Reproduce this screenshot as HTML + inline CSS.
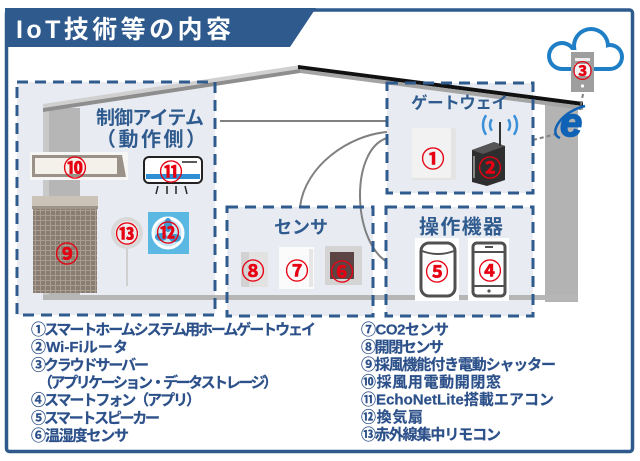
<!DOCTYPE html>
<html><head><meta charset="utf-8"><title>IoT技術等の内容</title>
<style>
html,body{margin:0;padding:0;background:#fff;width:640px;height:461px;overflow:hidden}
svg{display:block}
text{font-family:"Liberation Sans","Noto Sans CJK JP",sans-serif;font-weight:bold}
.n{font-family:"Noto Sans CJK JP",sans-serif;font-size:23px;fill:#e60012;stroke:#e60012;stroke-width:0.5px;text-anchor:middle;dominant-baseline:central;font-weight:bold}
.lab{fill:#2f5b8e;dominant-baseline:central}
.lg{fill:#2c5089;font-size:15px;dominant-baseline:central;stroke:#2c5089;stroke-width:0.2px}
</style></head><body>
<svg width="640" height="461" viewBox="0 0 640 461" xmlns="http://www.w3.org/2000/svg">
<defs>
<pattern id="grid" width="5" height="5" patternUnits="userSpaceOnUse">
<rect width="5" height="5" fill="#887d70"/>
<path d="M0,0.5H5M0.5,0V5" stroke="#a89d90" stroke-width="1"/>
</pattern>
</defs>
<rect width="640" height="461" fill="#fff"/>
<!-- frame -->
<rect x="6.5" y="10" width="626" height="441.5" rx="3" fill="#fff" stroke="#2e5a8e" stroke-width="3.5"/>
<polygon points="5,8 316,8 290,47 5,47" fill="#2e5a8e"/>
<text x="16" y="30" font-size="25" fill="#fff" textLength="215" lengthAdjust="spacing" style="dominant-baseline:central">IoT技術等の内容</text>

<!-- box fills -->
<g fill="#e8ecf2">
<rect x="17" y="82" width="198" height="233"/>
<rect x="387" y="83" width="146" height="110"/>
<rect x="227" y="207" width="146" height="109"/>
<rect x="386" y="207" width="147" height="109"/>
</g>

<!-- house -->
<rect x="43" y="108" width="37" height="190" fill="#b6b6b6"/>
<rect x="43" y="108" width="6" height="190" fill="#c9c9c9"/>
<polygon points="545,98 578,103 578,302 545,302" fill="#b3b3b3"/>
<rect x="43" y="295" width="535" height="5" fill="#b6b6b6"/>
<polygon points="43,104 300,65 300,69 43,108" fill="#d0d0d0"/>
<polygon points="43,108 300,69 300,73 43,112" fill="#8e8e8e"/>
<polygon points="298,65 583,102 583,106 298,69" fill="#111"/>
<polygon points="300,69 583,106 583,110 300,73" fill="#a4a4a4"/>

<!-- connectors -->
<g fill="none" stroke="#808080" stroke-width="2">
<line x1="220" y1="121" x2="387" y2="121"/>
<path d="M387,132 C350,135 305,165 300,207"/>
<path d="M387,138 C350,150 352,240 387,262"/>
</g>
<g fill="none" stroke="#808080" stroke-width="2" stroke-dasharray="4 3">
<line x1="533" y1="140" x2="560" y2="133"/>
<line x1="583" y1="94" x2="580" y2="110"/>
</g>

<!-- dashed boxes -->
<g fill="none" stroke="#2f5b8e" stroke-width="3" stroke-dasharray="11 7">
<rect x="17" y="82" width="198" height="233"/>
<rect x="387" y="83" width="146" height="110"/>
<rect x="227" y="207" width="146" height="109"/>
<rect x="386" y="207" width="147" height="109"/>
</g>

<!-- devices: box1 -->
<rect x="30" y="152" width="98" height="28" fill="#f6f6f4"/>
<polygon points="32,155 122,155 126,177 32,177" fill="#9a9288"/>
<rect x="35" y="158" width="82" height="16" fill="#f4f1ea"/>

<rect x="144" y="157" width="58" height="26" rx="5" fill="#fff" stroke="#222" stroke-width="2"/>
<rect x="146" y="174" width="54" height="5" fill="#2f8fd5"/>
<line x1="182" y1="162" x2="197" y2="162" stroke="#222" stroke-width="1.5"/>
<g stroke="#222" stroke-width="1.5">
<line x1="158" y1="186" x2="156" y2="194"/>
<line x1="167" y1="186" x2="167" y2="194"/>
<line x1="176" y1="186" x2="176" y2="194"/>
<line x1="185" y1="186" x2="187" y2="194"/>
</g>

<rect x="32" y="196" width="66" height="12" fill="#cbc3b7"/>
<rect x="32" y="206" width="66" height="3" fill="#9d9488"/>
<rect x="33" y="209" width="64" height="84" fill="url(#grid)"/>

<circle cx="127" cy="233" r="16" fill="#d8d8d8"/>
<circle cx="127" cy="233" r="12" fill="#ececec"/>
<rect x="126" y="249" width="2" height="37" fill="#d0d0d0"/>

<rect x="148" y="212" width="41" height="42" fill="#5bb8e2"/>
<circle cx="168" cy="233" r="15" fill="#c2e7f6" stroke="#fff" stroke-width="3"/>
<g fill="#3a9ad0">
<ellipse cx="168" cy="225" rx="4" ry="7"/>
<ellipse cx="161" cy="237" rx="6" ry="4"/>
<ellipse cx="175" cy="238" rx="6" ry="4"/>
</g>

<!-- sensors -->
<rect x="241" y="252" width="27" height="35" fill="#e2e2e2"/>
<rect x="241" y="252" width="8" height="35" fill="#d2d2d2"/>
<rect x="279" y="247" width="35" height="42" fill="#fbfbfb"/>
<rect x="309" y="249" width="4" height="38" fill="#e6e6e6"/>
<rect x="325" y="246" width="37" height="39" fill="#d4d4d4"/>
<rect x="330" y="252" width="24" height="27" fill="#5c4444"/>

<!-- operation devices -->
<rect x="415" y="238" width="44" height="63" fill="#fff"/>
<rect x="468" y="238" width="41" height="63" fill="#fff"/>
<rect x="421" y="243" width="34" height="53" rx="8" fill="#fff" stroke="#505050" stroke-width="3"/>
<path d="M422,251 Q438,257 454,251" fill="none" stroke="#505050" stroke-width="2"/>
<rect x="473" y="243" width="32" height="53" rx="4" fill="#fff" stroke="#505050" stroke-width="3"/>
<line x1="473" y1="252" x2="505" y2="252" stroke="#505050" stroke-width="2"/>
<line x1="473" y1="286" x2="505" y2="286" stroke="#505050" stroke-width="2"/>
<rect x="485" y="246" width="8" height="2" fill="#505050"/>
<circle cx="489" cy="291" r="1.6" fill="#505050"/>

<!-- gateway devices -->
<rect x="412" y="128" width="44" height="52" rx="2" fill="#e4e4e4"/>
<rect x="412" y="128" width="39" height="50" rx="2" fill="#f2f2f2"/>
<polygon points="472,150 494,142 505,146 505,180 487,186 472,182" fill="#2e2e2e"/>
<polygon points="472,150 494,142 505,146 483,154" fill="#555"/>
<line x1="474" y1="156" x2="474" y2="178" stroke="#888" stroke-width="2"/>
<line x1="500" y1="146" x2="500" y2="122" stroke="#333" stroke-width="2"/>
<g fill="none" stroke="#3a8fd8" stroke-width="2.5">
<path d="M491.8,119.3 A10,10 0 0 0 491.8,130.7"/>
<path d="M486.1,115.25 A17,17 0 0 0 486.1,134.75"/>
<path d="M508.2,119.3 A10,10 0 0 1 508.2,130.7"/>
<path d="M513.9,115.25 A17,17 0 0 1 513.9,134.75"/>
</g>

<!-- cloud -->
<g fill="#1f7fc6">
<circle cx="562" cy="56" r="15"/>
<circle cx="591" cy="46" r="19"/>
<circle cx="610" cy="57" r="14"/>
<rect x="562" y="50" width="48" height="21"/>
</g>
<g fill="#fff">
<circle cx="562" cy="56" r="11"/>
<circle cx="591" cy="46" r="15"/>
<circle cx="610" cy="57" r="10"/>
<rect x="562" y="50" width="48" height="17"/>
</g>
<rect x="571" y="52" width="23" height="40" fill="#9e9e9e"/>
<rect x="575" y="58" width="15" height="3" fill="#eee"/>
<rect x="575" y="64" width="15" height="12" fill="#f3f3f3"/>
<circle cx="582.5" cy="86" r="1.6" fill="#fff"/>
<text class="n" x="582.5" y="70" style="font-size:19px">③</text>

<!-- IE logo -->
<path d="M560,138 C548,134 560,112 585,106" fill="none" stroke="#0f62b5" stroke-width="2.5"/>
<text x="560" y="136" font-size="40" font-style="italic" fill="#0f62b5" stroke="#0f62b5" stroke-width="1.5">e</text>

<!-- red numbers -->
<text class="n" x="75" y="166">⑩</text>
<text class="n" x="171" y="170">⑪</text>
<text class="n" x="67" y="252">⑨</text>
<text class="n" x="127" y="232">⑬</text>
<text class="n" x="168" y="231">⑫</text>
<text class="n" x="253" y="269">⑧</text>
<text class="n" x="297" y="269">⑦</text>
<text class="n" x="342" y="270">⑥</text>
<text class="n" x="437" y="270">⑤</text>
<text class="n" x="490" y="269">④</text>
<text class="n" x="433" y="157">①</text>
<text class="n" x="490" y="166">②</text>

<!-- box labels -->
<text class="lab" x="96" y="118.5" font-size="19" textLength="108" lengthAdjust="spacing">制御アイテム</text>
<text class="lab" x="96" y="140" font-size="20" textLength="110" lengthAdjust="spacing">（動作側）</text>
<text class="lab" x="411" y="103.5" font-size="16.5" textLength="97" lengthAdjust="spacing">ゲートウェイ</text>
<text class="lab" x="274" y="227.5" font-size="18" textLength="54" lengthAdjust="spacing">センサ</text>
<text class="lab" x="419" y="227.5" font-size="20" textLength="84" lengthAdjust="spacing">操作機器</text>

<!-- legend left -->
<text class="lg" x="31" y="330" textLength="285" lengthAdjust="spacing">①スマートホームシステム用ホームゲートウェイ</text>
<text class="lg" x="31" y="347.7" textLength="97" lengthAdjust="spacing">②Wi-Fiルータ</text>
<text class="lg" x="31" y="365.3" textLength="118" lengthAdjust="spacing">③クラウドサーバー</text>
<text class="lg" x="38" y="383" textLength="240" lengthAdjust="spacing">（アプリケーション・データストレージ）</text>
<text class="lg" x="31" y="400.7" textLength="170" lengthAdjust="spacing">④スマートフォン（アプリ）</text>
<text class="lg" x="31" y="418.3" textLength="129" lengthAdjust="spacing">⑤スマートスピーカー</text>
<text class="lg" x="31" y="436" textLength="98" lengthAdjust="spacing">⑥温湿度センサ</text>

<!-- legend right -->
<text class="lg" x="361" y="330" textLength="88" lengthAdjust="spacing">⑦CO2センサ</text>
<text class="lg" x="361" y="347.5" textLength="83" lengthAdjust="spacing">⑧開閉センサ</text>
<text class="lg" x="361" y="365" textLength="195" lengthAdjust="spacing">⑨採風機能付き電動シャッター</text>
<text class="lg" x="361" y="382.5" textLength="140" lengthAdjust="spacing">⑩採風用電動開閉窓</text>
<text class="lg" x="361" y="400" textLength="193" lengthAdjust="spacing">⑪EchoNetLite搭載エアコン</text>
<text class="lg" x="361" y="417.5" textLength="62" lengthAdjust="spacing">⑫換気扇</text>
<text class="lg" x="361" y="435" textLength="140" lengthAdjust="spacing">⑬赤外線集中リモコン</text>
</svg>
</body></html>
